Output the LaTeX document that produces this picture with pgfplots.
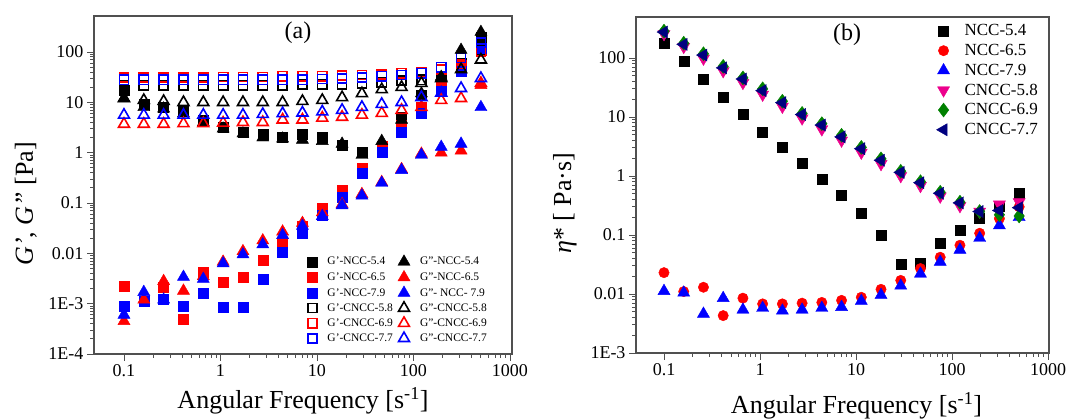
\documentclass[border=0pt]{standalone}
\usepackage{fontspec}
\setmainfont{Liberation Serif}
\usepackage{pgfplots}
\usepackage{pgfplotstable}
\pgfplotsset{compat=1.18}

\definecolor{navy}{RGB}{0,0,128}
\definecolor{dgreen}{RGB}{0,128,0}
\definecolor{axgray}{RGB}{80,80,80}

% panel (a): G' and G''
\pgfplotstableread{
x gpA gpB gpC gpD gpE gpF gppA gppB gppC gppD gppE gppF
0.1    17.5 0.0022 0.0009  22 31 28  12  0.00045 0.0006 12   3.7 5.6
0.1605 9    0.0011 0.0011  22 31 28  8   0.0012  0.0017 11   3.7 5.6
0.2576 8    0.0021 0.0012  22 31 28  7.5 0.0028  0.0012 10.5 3.7 5.6
0.4135 7    0.0005 0.0009  22 31 28  6   0.0018  0.0034 10   3.8 5.6
0.6637 4.5  0.0042 0.0016  22 31 28  4   0.0035  0.0031 10   3.8 5.6
1.065  3.2  0.0027 0.00085 22 32 28  3.0 0.0068  0.0063 10   3.9 5.6
1.710  2.6  0.0033 0.00085 22 32 28  2.4 0.011   0.0095 10   4.0 5.6
2.744  2.3  0.0072 0.003   22 32 28  2.0 0.018   0.015  10   4.0 5.8
4.404  2.0  0.017  0.0105  22 33 28  1.9 0.027   0.023  10   4.5 6.0
7.069  2.3  0.034  0.025   23 33 28  1.8 0.04    0.035  10.5 4.5 6.2
11.35  2.0  0.08   0.058   23 33 29  1.7 0.065   0.055  11   4.9 6.5
18.21  1.4  0.18   0.13    23 34 30  1.5 0.095   0.09   12.5 5.1 7
29.23  1.0  0.5    0.4     24 35 31  0.9 0.15    0.14   15   5.6 8
46.91  1.3  1.35   1.0     25 36 33  1.7 0.26    0.25   18   6.1 9.2
75.30  5    3.5    2.6     27 38 35  4.5 0.47    0.45   20   7   10
120.9  14   8      6       28 40 38  15  0.95    0.9    24   8   12.6
194.0  30   24     17      33 45 50  32  1.0     1.3    30   11  15.4
311.4  60   55     42      50 58 76  110 1.1     1.5    45   12  19
500    200  110    120     110 100 155 250 22    8      70   24  30
}\dataA

% panel (b): complex viscosity
\pgfplotstableread{
x nA nB nC cD cE cF
0.1    180   0.023  0.0112 255  285  275
0.1605 89    0.011  0.0105 155  178  170
0.2576 44    0.013  0.0046 98   118  112
0.4135 22    0.0043 0.0085 60   72   68
0.6637 11    0.0085 0.0054 38   46   44
1.065  5.6   0.0068 0.0058 24   30   28
1.710  3.1   0.0068 0.0052 15   18.5 17.5
2.744  1.65  0.0070 0.0054 9.5  11.5 11
4.404  0.87  0.0072 0.0058 6.2  7.7  7.3
7.069  0.48  0.0078 0.0060 4.0  4.9  4.6
11.35  0.23  0.0088 0.0076 2.5  3.05 2.9
18.21  0.10  0.012  0.0096 1.6  1.95 1.85
29.23  0.032 0.017  0.0138 1.0  1.2  1.15
46.91  0.033 0.027  0.022  0.68 0.8  0.77
75.30  0.072 0.042  0.035  0.45 0.53 0.51
120.9  0.12  0.067  0.056  0.31 0.36 0.35
194.0  0.19  0.107  0.089  0.25 0.25 0.25
311.4  0.31  0.19   0.145  0.33 0.22 0.26
500    0.51  0.30   0.20   0.36 0.21 0.29
}\dataB

\begin{document}
\begin{tikzpicture}
\useasboundingbox (0,0) rectangle (1069pt,419pt);

\begin{axis}[
  scale only axis, xmode=log, ymode=log,
  axis line style={draw=axgray, line width=1.2pt},
  tick style={draw=axgray, line width=0.9pt},
  tick align=outside, xtick pos=lower, ytick pos=left,
  major tick length=7pt, minor tick length=4pt,
  xtick={0.1,1,10,100,1000}, xticklabels={0.1,1,10,100,1000},
  tick label style={font=\fontsize{18}{20}\selectfont},
  label style={font=\fontsize{26}{28}\selectfont},
  xlabel={Angular Frequency [s\textsuperscript{-1}]},
  xlabel style={yshift=-4pt},
  at={(94pt,65pt)}, anchor=south west,
  width=418pt, height=338pt,
  xmin=0.0489, xmax=1050, ymin=1e-4, ymax=520,
  ytick={1e-4,1e-3,0.01,0.1,1,10,100},
  yticklabels={1E-4,1E-3,0.01,0.1,1,10,100},
  ylabel={\textit{G'}, \textit{G''} [Pa]},
  ylabel style={at={(axis description cs:-0.163,0.444)}, anchor=center},
  legend columns=2, legend cell align=left,
  legend style={at={(0.503,0.300)}, anchor=north west, draw=none, fill=none,
    font=\fontsize{11.5}{13}\selectfont, row sep=2pt,
    /tikz/every odd column/.append style={column sep=8pt},
    /tikz/every even column/.append style={column sep=3pt}},
]
% G'
\addplot[forget plot, only marks, mark=square*, mark size=5pt, black] table[x=x,y=gpA]{\dataA};
\addplot[forget plot, only marks, mark=square*, mark size=5pt, red] table[x=x,y=gpB]{\dataA};
\addplot[forget plot, only marks, mark=square*, mark size=5pt, blue] table[x=x,y=gpC]{\dataA};
\addplot[forget plot, only marks, mark=square, mark size=4.6pt, black, mark options={line width=1.6pt}] table[x=x,y=gpD]{\dataA};
\addplot[forget plot, only marks, mark=square, mark size=4.6pt, red, mark options={line width=1.6pt}] table[x=x,y=gpE]{\dataA};
\addplot[forget plot, only marks, mark=square, mark size=4.6pt, blue, mark options={line width=1.6pt}] table[x=x,y=gpF]{\dataA};
% G''
\addplot[forget plot, only marks, mark=triangle*, mark size=7pt, black] table[x=x,y=gppA]{\dataA};
\addplot[forget plot, only marks, mark=triangle*, mark size=7pt, red] table[x=x,y=gppB]{\dataA};
\addplot[forget plot, only marks, mark=triangle*, mark size=7pt, blue] table[x=x,y=gppC]{\dataA};
\addplot[forget plot, only marks, mark=triangle, mark size=6.3pt, black, mark options={line width=1.6pt}] table[x=x,y=gppD]{\dataA};
\addplot[forget plot, only marks, mark=triangle, mark size=6.3pt, red, mark options={line width=1.6pt}] table[x=x,y=gppE]{\dataA};
\addplot[forget plot, only marks, mark=triangle, mark size=6.3pt, blue, mark options={line width=1.6pt}] table[x=x,y=gppF]{\dataA};

\addlegendimage{only marks, mark=square*, mark size=5pt, black}\addlegendentry{G'-NCC-5.4}
\addlegendimage{only marks, mark=triangle*, mark size=7pt, black}\addlegendentry{G''-NCC-5.4}
\addlegendimage{only marks, mark=square*, mark size=5pt, red}\addlegendentry{G'-NCC-6.5}
\addlegendimage{only marks, mark=triangle*, mark size=7pt, red}\addlegendentry{G''-NCC-6.5}
\addlegendimage{only marks, mark=square*, mark size=5pt, blue}\addlegendentry{G'-NCC-7.9}
\addlegendimage{only marks, mark=triangle*, mark size=7pt, blue}\addlegendentry{G''- NCC- 7.9}
\addlegendimage{only marks, mark=square, mark size=4.6pt, black, mark options={line width=1.6pt}}\addlegendentry{G'-CNCC-5.8}
\addlegendimage{only marks, mark=triangle, mark size=6.3pt, black, mark options={line width=1.6pt}}\addlegendentry{G''-CNCC-5.8}
\addlegendimage{only marks, mark=square, mark size=4.6pt, red, mark options={line width=1.6pt}}\addlegendentry{G'-CNCC-6.9}
\addlegendimage{only marks, mark=triangle, mark size=6.3pt, red, mark options={line width=1.6pt}}\addlegendentry{G''-CNCC-6.9}
\addlegendimage{only marks, mark=square, mark size=4.6pt, blue, mark options={line width=1.6pt}}\addlegendentry{G'-CNCC-7.7}
\addlegendimage{only marks, mark=triangle, mark size=6.3pt, blue, mark options={line width=1.6pt}}\addlegendentry{G''-CNCC-7.7}

\node[font=\fontsize{24}{26}\selectfont] at (rel axis cs:0.488,0.95) {(a)};
\end{axis}

\begin{axis}[
  scale only axis, xmode=log, ymode=log,
  axis line style={draw=axgray, line width=1.2pt},
  tick style={draw=axgray, line width=0.9pt},
  tick align=outside, xtick pos=lower, ytick pos=left,
  major tick length=7pt, minor tick length=4pt,
  xtick={0.1,1,10,100,1000}, xticklabels={0.1,1,10,100,1000},
  tick label style={font=\fontsize{18}{20}\selectfont},
  label style={font=\fontsize{26}{28}\selectfont},
  xlabel={Angular Frequency [s\textsuperscript{-1}]},
  at={(636pt,66pt)}, anchor=south west,
  width=413pt, height=336pt,
  xmin=0.0511, xmax=1023, ymin=1e-3, ymax=495,
  ytick={1e-3,0.01,0.1,1,10,100},
  yticklabels={1E-3,0.01,0.1,1,10,100},
  ylabel={\textit{η}* [ Pa·s]},
  ylabel style={at={(axis description cs:-0.172,0.446)}, anchor=center},
  xlabel style={xshift=14pt, yshift=-10pt},
  legend cell align=left,
  legend style={at={(0.72,0.99)}, anchor=north west, draw=none, fill=none,
    font=\fontsize{17}{19}\selectfont, row sep=3pt,
    /tikz/every odd column/.append style={column sep=13pt}},
]
\addplot[only marks, mark=square*, mark size=5pt, black] table[x=x,y=nA]{\dataB};
\addlegendentry{NCC-5.4}
\addplot[only marks, mark=*, mark size=5.2pt, red] table[x=x,y=nB]{\dataB};
\addlegendentry{NCC-6.5}
\addplot[only marks, mark=triangle*, mark size=7pt, blue] table[x=x,y=nC]{\dataB};
\addlegendentry{NCC-7.9}
\addplot[only marks, mark=triangle*, mark size=7pt, magenta, mark options={rotate=180}] table[x=x,y=cD]{\dataB};
\addlegendentry{CNCC-5.8}
\addplot[only marks, mark=diamond*, mark size=7pt, dgreen] table[x=x,y=cE]{\dataB};
\addlegendentry{CNCC-6.9}
\addplot[only marks, mark=triangle*, mark size=7pt, navy, mark options={rotate=90}] table[x=x,y=cF]{\dataB};
\addlegendentry{CNCC-7.7}

\node[font=\fontsize{24}{26}\selectfont] at (rel axis cs:0.511,0.946) {(b)};
\end{axis}
\end{tikzpicture}
\end{document}
